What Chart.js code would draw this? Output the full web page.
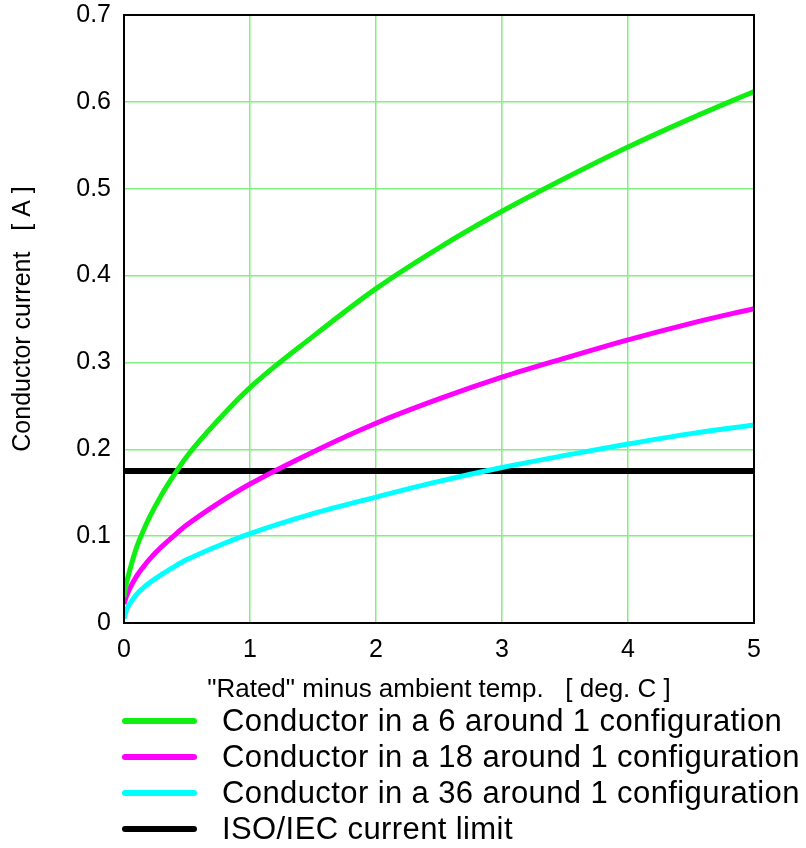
<!DOCTYPE html>
<html>
<head>
<meta charset="utf-8">
<script src="https://cdn.jsdelivr.net/npm/chart.js@4/dist/chart.umd.min.js"></script>
<style>
  body { margin: 0; background: #fff; font-family: "Liberation Sans", Arial, sans-serif; }
  #wrap { position: relative; width: 806px; height: 848px; }
  #chartBox { position: absolute; left: 0; top: 0; width: 806px; height: 705px; }
  #legend { position: absolute; left: 0; top: 703px; list-style: none; margin: 0; padding: 0; }
  #legend li { height: 36px; display: flex; align-items: center; font-size: 31px; letter-spacing: 0.4px; color: #000; white-space: nowrap; }
  #legend .swatch { display: inline-block; width: 75px; height: 6px; border-radius: 3px; margin-left: 122px; margin-right: 25px; }
</style>
</head>
<body>
<div id="wrap">
  <div id="chartBox"><canvas id="CurrentChart"></canvas></div>
  <ul id="legend"></ul>
</div>
<script>
// temperature difference points (deg. C)
const tempDiff = [0, 0.02, 0.05, 0.1, 0.15, 0.2, 0.3, 0.4, 0.5, 0.75, 1, 1.5, 2, 2.5, 3, 3.5, 4, 4.5, 5];

// conductor current [A]
const sixAroundOne = [0.03, 0.046, 0.063, 0.087, 0.105, 0.121, 0.148, 0.171, 0.192, 0.234, 0.271, 0.33, 0.385, 0.432, 0.474, 0.512, 0.548, 0.581, 0.612];
const eighteenAroundOne = [0.022, 0.031, 0.041, 0.054, 0.064, 0.073, 0.088, 0.101, 0.113, 0.138, 0.16, 0.197, 0.23, 0.258, 0.283, 0.305, 0.326, 0.345, 0.362];
const thirtySixAroundOne = [0.005, 0.015, 0.023, 0.033, 0.04, 0.046, 0.056, 0.065, 0.073, 0.089, 0.103, 0.126, 0.145, 0.163, 0.179, 0.193, 0.206, 0.218, 0.228];
const isoLimitX = [0, 5];
const isoLimit = [0.175, 0.175];

const seriesLabels = [
    "Conductor in a 6 around 1 configuration",
    "Conductor in a 18 around 1 configuration",
    "Conductor in a 36 around 1 configuration",
    "ISO/IEC current limit"
];
const seriesColors = ['#11ee11', '#ff00ff', '#00ffff', '#000000'];

const xTitle = '"Rated" minus ambient temp.   [ deg. C ]';
const yTitle = 'Conductor current   [ A ]';

function toPoints(xs, ys) {
    let pts = [];
    for (let i = 0; i < xs.length; i++) {
        pts.push({ x: xs[i], y: ys[i] });
    }
    return pts;
}

const allSeries = [
    toPoints(tempDiff, sixAroundOne),
    toPoints(tempDiff, eighteenAroundOne),
    toPoints(tempDiff, thirtySixAroundOne),
    toPoints(isoLimitX, isoLimit)
];

let datasets = [];
for (let i = 0; i < allSeries.length; i++) {
    datasets.push({
        label: seriesLabels[i],
        data: allSeries[i],
        borderColor: seriesColors[i],
        backgroundColor: seriesColors[i],
        borderWidth: i == 3 ? 6 : 5,
        pointRadius: 0,
        cubicInterpolationMode: 'monotone',
        fill: false
    });
}

// draw the black frame round the plot area
const frameBox = {
    id: 'frameBox',
    afterDatasetsDraw(chart) {
        const a = chart.chartArea;
        const ctx = chart.ctx;
        ctx.save();
        ctx.strokeStyle = '#000';
        ctx.lineWidth = 2;
        ctx.strokeRect(a.left, a.top, a.right - a.left, a.bottom - a.top);
        ctx.restore();
    }
};

const font = "'Liberation Sans', Arial, sans-serif";

new Chart(document.getElementById("CurrentChart"), {
    type: 'line',
    data: { datasets: datasets },
    options: {
        responsive: true,
        maintainAspectRatio: false,
        animation: false,
        layout: { padding: { left: 0, right: 52, top: 15, bottom: 0 } },
        plugins: {
            legend: { display: false },
            tooltip: { enabled: false }
        },
        scales: {
            x: {
                type: 'linear',
                min: 0,
                max: 5,
                afterFit: function (scale) {
                    scale.height = 82;
                    scale.paddingLeft = 0;
                    scale.paddingRight = 0;
                },
                grid: { color: '#80f080', lineWidth: 1.5, drawTicks: false },
                border: { display: false },
                ticks: {
                    stepSize: 1,
                    padding: 12,
                    color: '#000',
                    font: { family: font, size: 25 }
                },
                title: {
                    display: true,
                    text: xTitle,
                    color: '#000',
                    font: { family: font, size: 26 },
                    padding: { top: 4, bottom: 0 }
                }
            },
            y: {
                min: 0,
                max: 0.7,
                afterFit: function (scale) {
                    scale.width = 124;
                    scale.paddingTop = 0;
                    scale.paddingBottom = 0;
                },
                grid: { color: '#80f080', lineWidth: 1.5, drawTicks: false },
                border: { display: false },
                ticks: {
                    stepSize: 0.1,
                    padding: 13,
                    color: '#000',
                    font: { family: font, size: 25 },
                    callback: function (value) {
                        return value == 0 ? '0' : value.toFixed(1);
                    }
                },
                title: {
                    display: true,
                    text: yTitle,
                    color: '#000',
                    font: { family: font, size: 25 },
                    padding: { top: 8, bottom: 0 }
                }
            }
        }
    },
    plugins: [frameBox]
});

// html legend under the chart
let legendHTML = '';
for (let i = 0; i < seriesLabels.length; i++) {
    legendHTML += `<li><span class="swatch" style="background:${seriesColors[i]}"></span>${seriesLabels[i]}</li>`;
}
document.getElementById("legend").innerHTML = legendHTML;
</script>
</body>
</html>
